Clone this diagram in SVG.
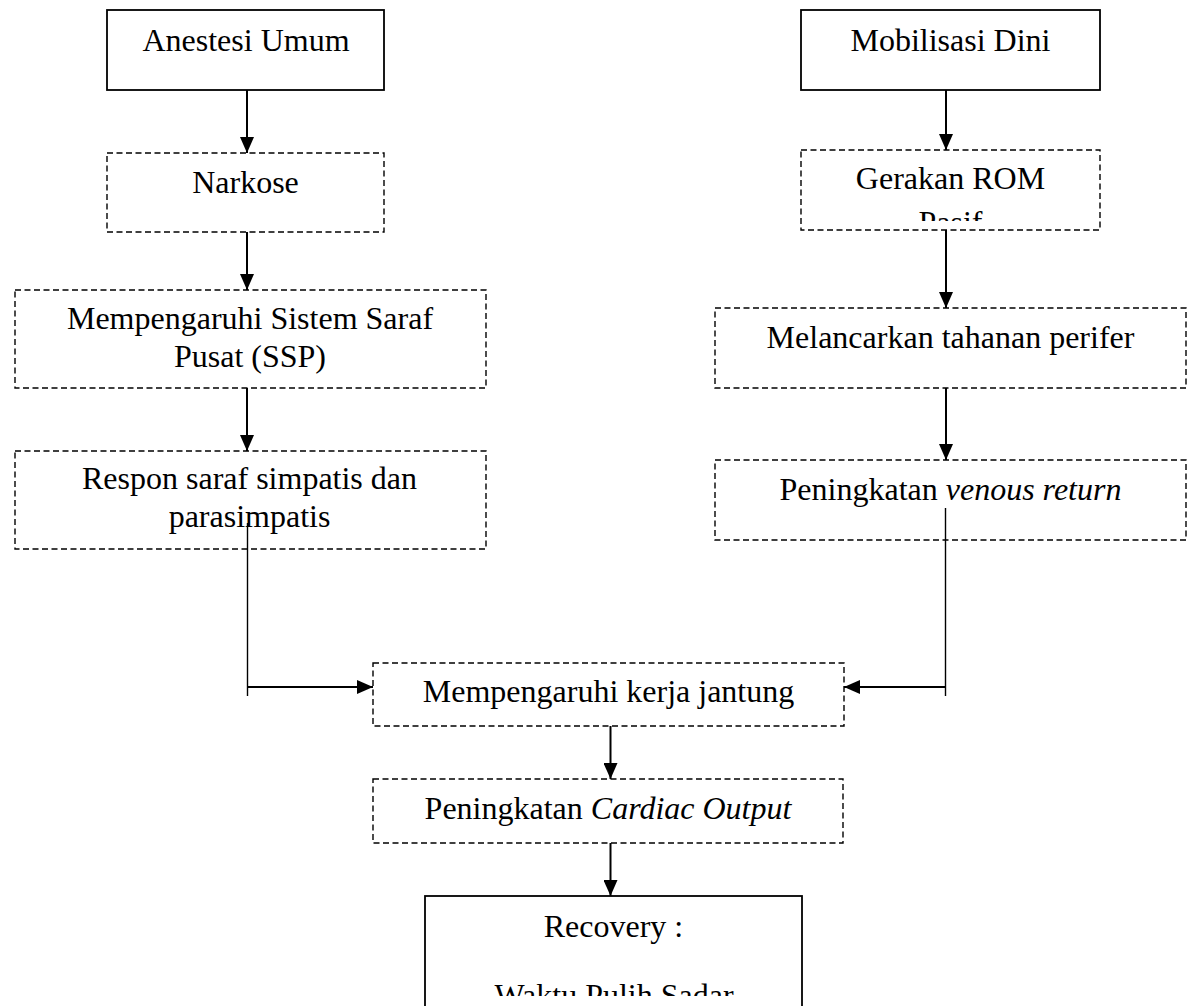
<svg xmlns="http://www.w3.org/2000/svg" width="1194" height="1006" viewBox="0 0 1194 1006">
  <style>
    text { font-family: "Liberation Serif", "Times New Roman", serif; font-size: 32px; fill: #000; text-anchor: middle; }
    .solid { fill: #fff; stroke: #000; stroke-width: 1.8; }
    .dash { fill: #fff; stroke: #000; stroke-width: 1.4; stroke-dasharray: 6 3.5; }
    .arr { stroke: #000; stroke-width: 2; fill: none; }
    .thin { stroke: #000; stroke-width: 1.4; fill: none; }
    .it { font-style: italic; }
  </style>
  <defs>
    <marker id="ah" viewBox="0 0 16 14" refX="16" refY="7" markerWidth="16" markerHeight="14" markerUnits="userSpaceOnUse" orient="auto">
      <path d="M0,0 L16,7 L0,14 z" fill="#000"/>
    </marker>
    <clipPath id="clipPasif"><rect x="801" y="150" width="299" height="71"/></clipPath>
    <clipPath id="clipWaktu"><rect x="425" y="896" width="377" height="100"/></clipPath>
  </defs>

  <g id="node-anestesi">
    <rect class="solid" x="107" y="10" width="277" height="80"/>
    <text x="246" y="51">Anestesi Umum</text>
  </g>
  <g id="node-narkose">
    <rect class="dash" x="107" y="153" width="277" height="79"/>
    <text x="245.5" y="193">Narkose</text>
  </g>
  <g id="node-ssp">
    <rect class="dash" x="15" y="290" width="471" height="98"/>
    <text x="250" y="329">Mempengaruhi Sistem Saraf</text>
    <text x="250" y="367">Pusat (SSP)</text>
  </g>
  <g id="node-respon">
    <rect class="dash" x="15" y="451" width="471" height="98"/>
    <text x="249.5" y="489">Respon saraf simpatis dan</text>
    <text x="249.5" y="527">parasimpatis</text>
  </g>
  <g id="node-mobilisasi">
    <rect class="solid" x="801" y="10" width="299" height="80"/>
    <text x="950.5" y="51">Mobilisasi Dini</text>
  </g>
  <g id="node-gerakan">
    <rect class="dash" x="801" y="150" width="299" height="80"/>
    <text x="950.5" y="189">Gerakan ROM</text>
    <text x="950.5" y="233" clip-path="url(#clipPasif)">Pasif</text>
  </g>
  <g id="node-melancarkan">
    <rect class="dash" x="715" y="308" width="471" height="80"/>
    <text x="950.5" y="348">Melancarkan tahanan perifer</text>
  </g>
  <g id="node-venous">
    <rect class="dash" x="715" y="460" width="471" height="80"/>
    <text x="950.5" y="500">Peningkatan <tspan class="it">venous return</tspan></text>
  </g>
  <g id="node-jantung">
    <rect class="dash" x="373" y="663" width="471" height="63"/>
    <text x="608.5" y="702">Mempengaruhi kerja jantung</text>
  </g>
  <g id="node-cardiac">
    <rect class="dash" x="373" y="779" width="470" height="64"/>
    <text x="608" y="819">Peningkatan <tspan class="it">Cardiac Output</tspan></text>
  </g>
  <g id="node-recovery">
    <rect class="solid" x="425" y="896" width="377" height="130"/>
    <text x="613.5" y="937">Recovery :</text>
    <text x="614" y="1006" clip-path="url(#clipWaktu)">Waktu Pulih Sadar</text>
  </g>

  <g id="connectors">
    <line class="arr" x1="247" y1="90" x2="247" y2="153" marker-end="url(#ah)"/>
    <line class="arr" x1="247" y1="232" x2="247" y2="290" marker-end="url(#ah)"/>
    <line class="arr" x1="247" y1="388" x2="247" y2="451" marker-end="url(#ah)"/>
    <line class="arr" x1="946" y1="90" x2="946" y2="150" marker-end="url(#ah)"/>
    <line class="arr" x1="946" y1="230" x2="946" y2="308" marker-end="url(#ah)"/>
    <line class="arr" x1="946" y1="388" x2="946" y2="460" marker-end="url(#ah)"/>
    <line class="thin" x1="247.5" y1="523" x2="247.5" y2="696"/>
    <line class="arr" x1="247.5" y1="687" x2="373" y2="687" marker-end="url(#ah)"/>
    <line class="thin" x1="945.5" y1="508" x2="945.5" y2="696"/>
    <line class="arr" x1="945.5" y1="687" x2="844" y2="687" marker-end="url(#ah)"/>
    <line class="arr" x1="610.5" y1="726" x2="610.5" y2="779" marker-end="url(#ah)"/>
    <line class="arr" x1="610.5" y1="843" x2="610.5" y2="896" marker-end="url(#ah)"/>
  </g>
</svg>
